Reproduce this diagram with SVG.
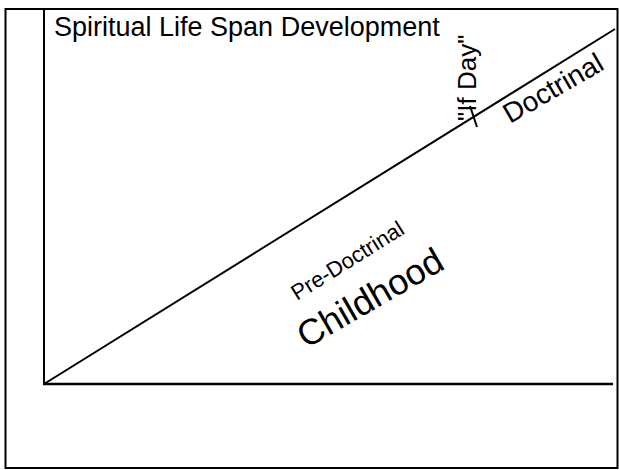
<svg xmlns="http://www.w3.org/2000/svg" width="619" height="470" viewBox="0 0 619 470">
<style>
.ln{stroke:#000;stroke-width:2;fill:none;stroke-linecap:butt}
.t{font-family:"Liberation Sans",Arial,sans-serif;fill:#000}
</style>
<rect x="0" y="0" width="619" height="470" fill="#fff"/>
<g id="frame"><rect class="ln" x="5.5" y="9" width="612" height="459"/></g>
<g id="connectors">
<line class="ln" x1="44" y1="9" x2="44" y2="384"/>
<line class="ln" x1="43" y1="384" x2="613" y2="384" style="stroke-width:2.6"/>
<line class="ln" x1="44" y1="384" x2="615" y2="29"/>
<line class="ln" x1="470" y1="106" x2="477" y2="127"/>
</g>
<g id="title"><text class="t" x="54" y="36" font-size="27">Spiritual Life Span Development</text></g>
<g id="ifday"><text class="t" font-size="26" transform="translate(476,121) rotate(-90)">"If Day"</text></g>
<g id="doctrinal"><text class="t" font-size="28" transform="translate(510,124) rotate(-30)">Doctrinal</text></g>
<g id="predoctrinal"><text class="t" font-size="22" transform="translate(297,301) rotate(-32)">Pre-Doctrinal</text></g>
<g id="childhood"><text class="t" font-size="36" transform="translate(306,349) rotate(-30)">Childhood</text></g>
</svg>
